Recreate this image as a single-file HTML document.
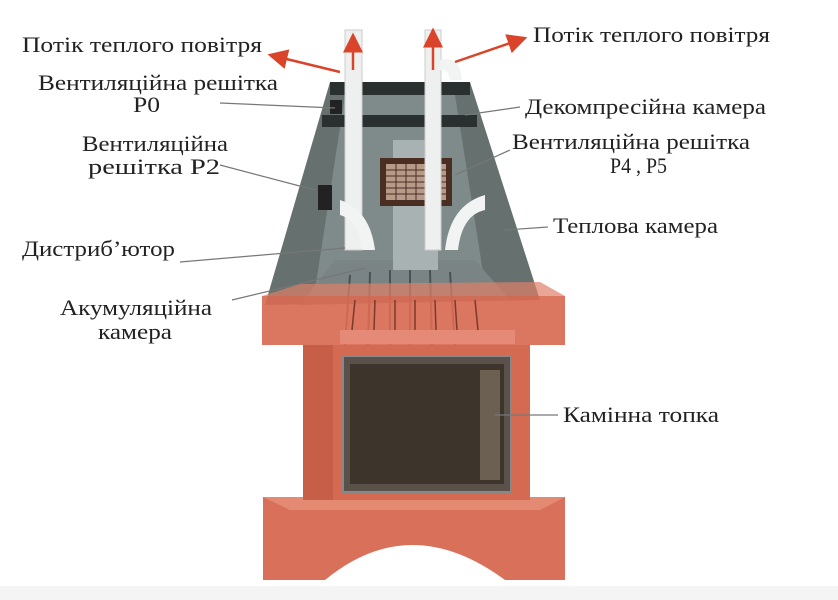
<!DOCTYPE html>
<html><head><meta charset="utf-8"><style>
html,body{margin:0;padding:0;background:#fff;}
svg{display:block}
text{font-family:"Liberation Serif",serif;font-size:22px;fill:#222;}
</style></head><body>
<svg width="838" height="600" viewBox="0 0 838 600" xmlns="http://www.w3.org/2000/svg">
<defs>
<marker id="ar" markerWidth="8" markerHeight="8" refX="7" refY="4" orient="auto"><path d="M0,0 L8,4 L0,8 z" fill="#d9442a"/></marker>
</defs>
<rect x="0" y="586" width="838" height="14" fill="#f4f4f4"/>
<!-- base -->
<path d="M263,497 L565,497 L565,580 L505,580 Q410,510 325,580 L263,580 Z" fill="#d9705a"/>
<path d="M263,497 L565,497 L540,510 L290,510 Z" fill="#e58a72"/>
<!-- body -->
<rect x="303" y="345" width="227" height="155" fill="#d46a52"/>
<rect x="303" y="345" width="30" height="155" fill="#c65e48"/>
<!-- firebox -->
<rect x="343" y="356" width="168" height="136" fill="#5a524a" stroke="#888" stroke-width="2"/>
<rect x="350" y="364" width="154" height="120" fill="#3d342c"/>
<rect x="480" y="370" width="20" height="110" fill="#6c6052"/>
<!-- hood -->
<path d="M330,82 L470,82 L540,300 L265,305 Z" fill="#65706f"/>
<path d="M345,95 L455,95 L485,285 L315,290 Z" fill="#7f8b8a"/>
<rect x="330" y="82" width="140" height="13" fill="#2a3030"/>
<rect x="322" y="115" width="155" height="12" fill="#2a3030"/>
<path d="M335,260 L475,260 L510,300 L300,305 Z" fill="#7a8484"/>
<g stroke="#4a5252" stroke-width="2"><line x1="350" y1="275" x2="345" y2="345"/><line x1="370" y1="272" x2="368" y2="345"/><line x1="390" y1="270" x2="390" y2="345"/><line x1="410" y1="270" x2="410" y2="345"/><line x1="430" y1="270" x2="432" y2="345"/><line x1="450" y1="272" x2="455" y2="345"/></g>
<!-- central flue -->
<rect x="393" y="140" width="45" height="130" fill="#a8b2b2"/>
<rect x="380" y="158" width="72" height="48" fill="#4a2e22"/>
<rect x="386" y="164" width="60" height="36" fill="#b89a88"/>
<g stroke="#4a2e22" stroke-width="1">
<line x1="386" y1="170" x2="446" y2="170"/><line x1="386" y1="176" x2="446" y2="176"/><line x1="386" y1="182" x2="446" y2="182"/><line x1="386" y1="188" x2="446" y2="188"/><line x1="386" y1="194" x2="446" y2="194"/>
<line x1="396" y1="164" x2="396" y2="200"/><line x1="406" y1="164" x2="406" y2="200"/><line x1="416" y1="164" x2="416" y2="200"/><line x1="426" y1="164" x2="426" y2="200"/><line x1="436" y1="164" x2="436" y2="200"/></g>
<!-- pipes -->
<rect x="345" y="30" width="17" height="220" fill="#eef0f0" stroke="#ccc"/>
<rect x="425" y="30" width="16" height="220" fill="#eef0f0" stroke="#ccc"/>
<path d="M340,200 Q370,210 375,250 L362,250 Q358,220 340,215 Z" fill="#f2f4f4"/>
<path d="M485,195 Q450,205 445,250 L458,250 Q462,215 485,210 Z" fill="#f2f4f4"/>
<path d="M440,60 Q460,55 462,80 L450,80 Q448,68 440,70 Z" fill="#f2f4f4"/>
<rect x="318" y="185" width="14" height="25" fill="#222"/>
<rect x="330" y="100" width="12" height="14" fill="#222"/>
<!-- mantel -->
<path d="M262,296 L565,296 L565,345 L262,345 Z" fill="#d86a52" opacity="0.92"/>
<path d="M262,296 L300,284 L540,282 L565,296 Z" fill="#e0806a" opacity="0.7"/>
<rect x="340" y="330" width="175" height="14" fill="#e58a76"/>
<g stroke="#7a3a2c" stroke-width="1.5"><line x1="355" y1="300" x2="352" y2="330"/><line x1="375" y1="300" x2="374" y2="330"/><line x1="395" y1="300" x2="395" y2="330"/><line x1="415" y1="300" x2="415" y2="330"/><line x1="435" y1="300" x2="436" y2="330"/><line x1="455" y1="300" x2="457" y2="330"/><line x1="475" y1="300" x2="478" y2="330"/></g>
<!-- red arrows -->
<g stroke="#d9442a" stroke-width="2.5" fill="none" marker-end="url(#ar)">
<line x1="353" y1="70" x2="353" y2="35"/><line x1="433" y1="70" x2="433" y2="30"/>
<line x1="340" y1="72" x2="270" y2="55"/><line x1="455" y1="62" x2="525" y2="38"/>
</g>
<!-- leader lines -->
<g stroke="#777" stroke-width="1.2" fill="none">
<line x1="220" y1="103" x2="335" y2="108"/>
<line x1="220" y1="165" x2="315" y2="190"/>
<line x1="180" y1="262" x2="345" y2="248"/>
<line x1="232" y1="300" x2="365" y2="268"/>
<line x1="520" y1="107" x2="465" y2="115"/>
<line x1="510" y1="150" x2="455" y2="175"/>
<line x1="548" y1="227" x2="505" y2="230"/>
<line x1="558" y1="415" x2="495" y2="415"/>
</g>
<g lengthAdjust="spacingAndGlyphs">
<text x="22" y="52" textLength="240" lengthAdjust="spacingAndGlyphs">Потік теплого повітря</text>
<text x="533" y="42" textLength="237" lengthAdjust="spacingAndGlyphs">Потік теплого повітря</text>
<text x="38" y="90" textLength="240" lengthAdjust="spacingAndGlyphs">Вентиляційна решітка</text>
<text x="133" y="112" textLength="27" lengthAdjust="spacingAndGlyphs">P0</text>
<text x="525" y="114" textLength="241" lengthAdjust="spacingAndGlyphs">Декомпресійна камера</text>
<text x="82" y="151" textLength="146" lengthAdjust="spacingAndGlyphs">Вентиляційна</text>
<text x="88" y="174" textLength="132" lengthAdjust="spacingAndGlyphs">решітка P2</text>
<text x="512" y="149" textLength="238" lengthAdjust="spacingAndGlyphs">Вентиляційна решітка</text>
<text x="610" y="173" textLength="57" lengthAdjust="spacingAndGlyphs">P4 , P5</text>
<text x="553" y="233" textLength="165" lengthAdjust="spacingAndGlyphs">Теплова камера</text>
<text x="22" y="256" textLength="153" lengthAdjust="spacingAndGlyphs">Дистриб’ютор</text>
<text x="60" y="315" textLength="152" lengthAdjust="spacingAndGlyphs">Акумуляційна</text>
<text x="98" y="339" textLength="74" lengthAdjust="spacingAndGlyphs">камера</text>
<text x="563" y="422" textLength="156" lengthAdjust="spacingAndGlyphs">Камінна топка</text>
</g>
</svg>
</body></html>
